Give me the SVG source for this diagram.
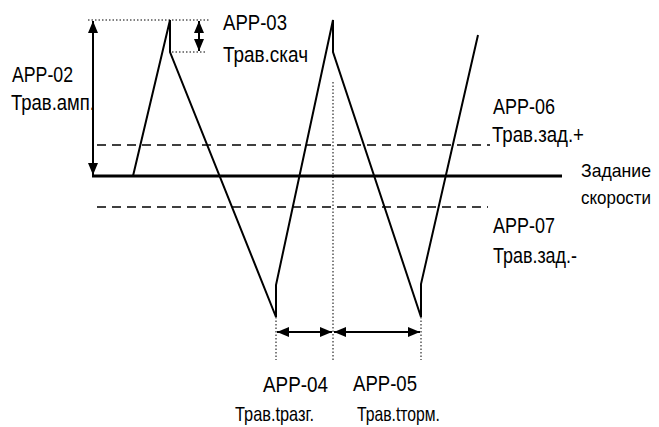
<svg xmlns="http://www.w3.org/2000/svg" width="659" height="427" viewBox="0 0 659 427">
<style>
text{font-family:"Liberation Sans",Arial,sans-serif;font-size:22px;fill:#000}
text.s{font-size:19px}
text.b{font-size:21px}
.w{fill:none;stroke:#000;stroke-width:2}
.base{fill:none;stroke:#000;stroke-width:3}
.dash{fill:none;stroke:#000;stroke-width:1.5;stroke-dasharray:9 6}
.dot{fill:none;stroke:#000;stroke-width:1;stroke-dasharray:1.5 2}
.arr{fill:none;stroke:#000;stroke-width:2;marker-start:url(#ah);marker-end:url(#ah)}
</style>
<defs>
<marker id="ah" markerUnits="userSpaceOnUse" markerWidth="12" markerHeight="10" refX="12" refY="5" orient="auto-start-reverse" viewBox="0 0 12 10">
<path d="M0,0 L12,5 L0,10 z" fill="#000"/>
</marker>
</defs>
<g id="connectors">
<line class="base" x1="92" y1="176" x2="562" y2="176"/>
<line class="dash" x1="97" y1="145" x2="490" y2="145"/>
<line class="dash" x1="97" y1="207" x2="488" y2="207"/>
<polyline class="w" points="133,176 170,20 170,52 276,317 276,285 333,20 333,52 421,317 421,284 478,35"/>
<line class="dot" x1="88" y1="20" x2="210" y2="20"/>
<line class="dot" x1="172" y1="52" x2="206" y2="52"/>
<line class="dot" x1="333" y1="82" x2="333" y2="360"/>
<line class="dot" x1="276" y1="317" x2="276" y2="360"/>
<line class="dot" x1="421" y1="317" x2="421" y2="360"/>
<line class="arr" x1="93" y1="21" x2="93" y2="175"/>
<line class="arr" x1="199" y1="21" x2="199" y2="51"/>
<line class="arr" x1="277" y1="332" x2="332" y2="332"/>
<line class="arr" x1="334" y1="332" x2="420" y2="332"/>
</g>
<g id="app02"><text x="12" y="82" textLength="61" lengthAdjust="spacingAndGlyphs">APP-02</text><text x="11" y="110" textLength="84" lengthAdjust="spacingAndGlyphs">Трав.амп.</text></g>
<g id="app03"><text x="223" y="30" textLength="64" lengthAdjust="spacingAndGlyphs">APP-03</text><text x="223" y="62" textLength="85" lengthAdjust="spacingAndGlyphs">Трав.скач</text></g>
<g id="app06"><text x="493" y="114" textLength="62" lengthAdjust="spacingAndGlyphs">APP-06</text><text x="492" y="142" textLength="92" lengthAdjust="spacingAndGlyphs">Трав.зад.+</text></g>
<g id="speed"><text class="s" x="581" y="177" textLength="70" lengthAdjust="spacingAndGlyphs">Задание</text><text class="s" x="581" y="204" textLength="70" lengthAdjust="spacingAndGlyphs">скорости</text></g>
<g id="app07"><text x="493" y="233" textLength="62" lengthAdjust="spacingAndGlyphs">APP-07</text><text x="493" y="263" textLength="84" lengthAdjust="spacingAndGlyphs">Трав.зад.-</text></g>
<g id="app04"><text x="263" y="392" textLength="65" lengthAdjust="spacingAndGlyphs">APP-04</text><text class="b" x="235" y="421" textLength="79" lengthAdjust="spacingAndGlyphs">Трав.tразг.</text></g>
<g id="app05"><text x="353" y="391" textLength="64" lengthAdjust="spacingAndGlyphs">APP-05</text><text class="b" x="357" y="421" textLength="83" lengthAdjust="spacingAndGlyphs">Трав.tторм.</text></g>
</svg>
